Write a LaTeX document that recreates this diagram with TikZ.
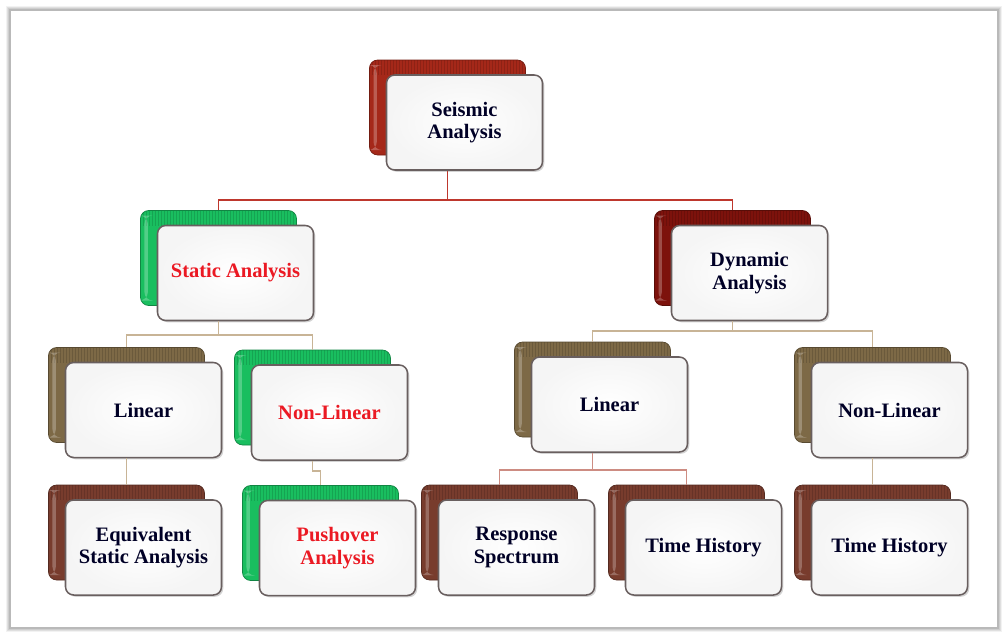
\documentclass[tikz,border=0pt]{standalone}
\usepackage{fontspec}
\setmainfont{Liberation Serif}
\usetikzlibrary{positioning,shadows,calc}

\definecolor{seisred}{RGB}{165,40,25}
\definecolor{dynred}{RGB}{125,18,12}
\definecolor{statgreen}{RGB}{25,190,95}
\definecolor{lintan}{RGB}{125,105,70}
\definecolor{leafbrown}{RGB}{120,60,45}
\definecolor{framegray}{RGB}{185,185,185}
\definecolor{boxrim}{RGB}{105,95,95}
\definecolor{redtext}{RGB}{235,25,35}
\definecolor{linkred}{RGB}{190,55,45}
\definecolor{linktan}{RGB}{200,180,150}
\definecolor{linkrose}{RGB}{205,140,130}

\tikzset{
  backbox/.style={rounded corners=7pt, fill=#1, draw=#1!70!black, line width=0.6pt,
    minimum width=4.68cm, minimum height=2.85cm,
    path picture={
      \foreach \k in {0,...,52}
        \draw[#1!70!black, line width=0.7pt, opacity=0.45]
          ([xshift=\k*0.09cm]path picture bounding box.north west) -- ++(0,-0.45cm);
      \fill[white, opacity=0.25] ([xshift=0.12cm,yshift=-0.15cm]path picture bounding box.north west)
        rectangle ++(0.1cm,-2.55cm);
    }},
  frontbox/.style={rounded corners=7pt, inner color=white, outer color=black!4,
    draw=boxrim, line width=1.3pt, minimum width=4.68cm, minimum height=2.85cm,
    align=center, font=\fontsize{17.5}{19}\selectfont\bfseries, text=black!85!blue,
    drop shadow={shadow xshift=1.5pt, shadow yshift=-1.5pt, opacity=0.35}},
  hot/.style={text=redtext},
  link/.style={draw=#1, line width=1pt},
}

\begin{document}
\begin{tikzpicture}[x=0.03cm, y=-0.03cm]

    \useasboundingbox (0,0) rectangle (1003,632);

    % frame
    \foreach \s/\o in {3/0.05, 2/0.08, 1/0.12}
        \draw[black, opacity=\o, line width=1pt] (10-\s,10-\s) rectangle (998+\s,628+\s);
    \draw[framegray, line width=1.2pt] (10,10) rectangle (998,628);

    % level 0
    \node[backbox=seisred] (seismicB) at (447.5,107.5) {};
    \node[frontbox] (seismic) at (464.5,122.5) {Seismic\\Analysis};

    % level 1
    \node[backbox=statgreen] (staticB) at (218.5,258) {};
    \node[frontbox, hot] (static) at (235.5,273) {Static Analysis};

    \node[backbox=dynred] (dynamicB) at (732.5,258) {};
    \node[frontbox] (dynamic) at (749.5,273) {Dynamic\\Analysis};

    % level 2
    \node[backbox=lintan] (linLB) at (126.5,395) {};
    \node[frontbox] (linL) at (143.5,410) {Linear};

    \node[backbox=statgreen] (nonlinSB) at (312.5,397.5) {};
    \node[frontbox, hot] (nonlinS) at (329.5,412.5) {Non-Linear};

    \node[backbox=lintan] (linDB) at (592.5,389.5) {};
    \node[frontbox] (linD) at (609.5,404.5) {Linear};

    \node[backbox=lintan] (nonlinDB) at (872.5,395) {};
    \node[frontbox] (nonlinD) at (889.5,410) {Non-Linear};

    % level 3
    \node[backbox=leafbrown] (equivB) at (126.5,532.5) {};
    \node[frontbox] (equiv) at (143.5,547.5) {Equivalent\\Static Analysis};

    \node[backbox=statgreen] (pushB) at (320.5,533) {};
    \node[frontbox, hot] (push) at (337.5,548) {Pushover\\Analysis};

    \node[backbox=leafbrown] (respB) at (499.5,532.5) {};
    \node[frontbox] (resp) at (516.5,547.5) {Response\\Spectrum};

    \node[backbox=leafbrown] (timeMB) at (686.5,532.5) {};
    \node[frontbox] (timeM) at (703.5,547.5) {Time History};

    \node[backbox=leafbrown] (timeRB) at (872.5,532.5) {};
    \node[frontbox] (timeR) at (889.5,547.5) {Time History};

    % bus levels
    \coordinate (busA) at (0,200);
    \coordinate (busB) at (0,335);
    \coordinate (busC) at (0,331);
    \coordinate (busD) at (0,471);
    \coordinate (busE) at (0,470);

    % connectors
    \draw[link=linkred] (seismicB |- seismic.south) -- (seismicB |- busA) -| (staticB.north);
    \draw[link=linkred] (seismicB |- busA) -| (dynamicB.north);

    \draw[link=linktan] (staticB |- static.south) -- (staticB |- busB) -| (linLB.north);
    \draw[link=linktan] (staticB |- busB) -| (nonlinSB.north);

    \draw[link=linktan] (dynamicB |- dynamic.south) -- (dynamicB |- busC) -| (linDB.north);
    \draw[link=linktan] (dynamicB |- busC) -| (nonlinDB.north);

    \draw[link=linktan] (linLB |- linL.south) -- (equivB.north);
    \draw[link=linktan] (nonlinSB |- nonlinS.south) -- (nonlinSB |- busD) -| (pushB.north);

    \draw[link=linkrose] (linDB |- linD.south) -- (linDB |- busE) -| (respB.north);
    \draw[link=linkrose] (linDB |- busE) -| (timeMB.north);
    \draw[link=linktan] (nonlinDB |- nonlinD.south) -- (timeRB.north);

\end{tikzpicture}
\end{document}
